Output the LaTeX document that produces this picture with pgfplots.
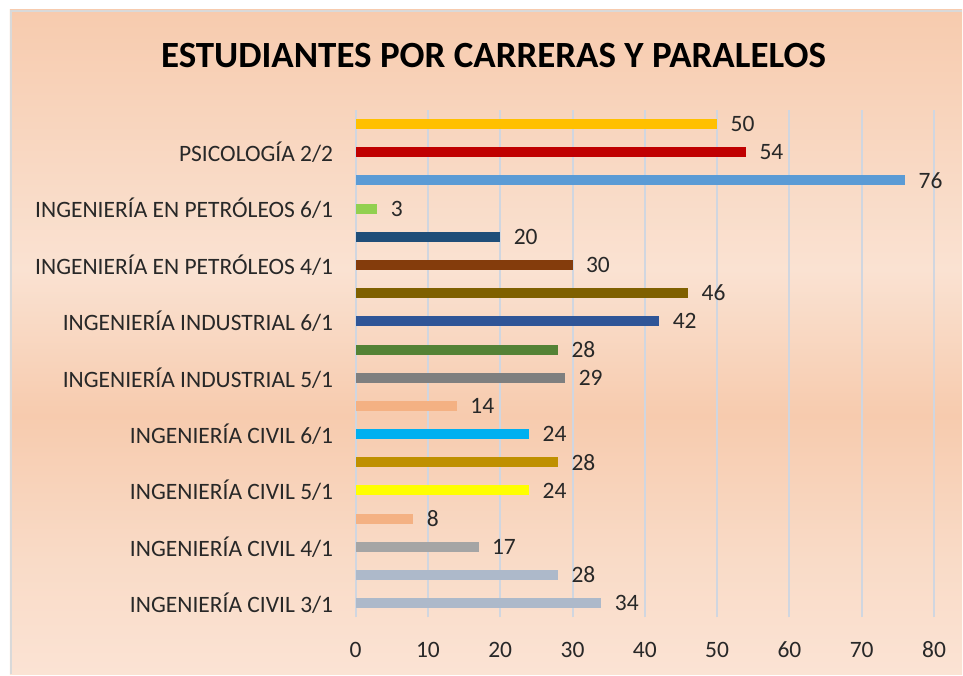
\documentclass[border=0pt]{standalone}
\usepackage{fontspec}
\setmainfont{Carlito}
\usepackage{pgfplots}
\pgfplotsset{compat=1.18}
\definecolor{txt}{RGB}{40,40,40}
\definecolor{gridc}{RGB}{208,214,224}
\definecolor{bgA}{RGB}{251,227,212}
\definecolor{bgB}{RGB}{249,219,199}
\definecolor{bgC}{RGB}{247,203,174}
\definecolor{bgD}{RGB}{250,226,210}
\definecolor{c0}{HTML}{ADB9CA}
\definecolor{c1}{HTML}{ADB9CA}
\definecolor{c2}{HTML}{A5A5A5}
\definecolor{c3}{HTML}{F4B183}
\definecolor{c4}{HTML}{FFFF00}
\definecolor{c5}{HTML}{BF9000}
\definecolor{c6}{HTML}{00B0F0}
\definecolor{c7}{HTML}{F4B183}
\definecolor{c8}{HTML}{7F7F7F}
\definecolor{c9}{HTML}{548235}
\definecolor{c10}{HTML}{2F5597}
\definecolor{c11}{HTML}{7F6000}
\definecolor{c12}{HTML}{843C0C}
\definecolor{c13}{HTML}{1F4E79}
\definecolor{c14}{HTML}{92D050}
\definecolor{c15}{HTML}{5B9BD5}
\definecolor{c16}{HTML}{C00000}
\definecolor{c17}{HTML}{FFC000}
\pgfdeclareverticalshading{bg}{100bp}{%
  color(0bp)=(bgA);
  color(25bp)=(bgA);
  color(33.6bp)=(bgB);
  color(44.5bp)=(bgC);
  color(55.5bp)=(bgD);
  color(75bp)=(bgC);
  color(100bp)=(bgC)}
\begin{document}
\begin{tikzpicture}
\fill[white] (0pt,0pt) rectangle (963pt,675pt);
\shade[shading=bg] (10pt,0pt) rectangle (963pt,665pt);
\draw[color=black!15, line width=2pt] (11pt,0pt) -- (11pt,664pt) -- (963pt,664pt);
\node[font=\fontsize{37}{42}\bfseries\selectfont, text=black] at (494pt,619pt) {ESTUDIANTES POR CARRERAS Y PARALELOS};
\begin{axis}[
  at={(356pt,57pt)}, anchor=south west,
  scale only axis, width=579pt, height=508pt,
  xbar, /pgf/bar shift=0pt, bar width=10pt,
  xmin=0, xmax=80, ymin=-0.5, ymax=17.5,
  xtick={0,10,...,80},
  ytick={0,2,...,16},
  yticklabels={INGENIERÍA CIVIL 3/1, INGENIERÍA CIVIL 4/1, INGENIERÍA CIVIL 5/1, INGENIERÍA CIVIL 6/1, INGENIERÍA INDUSTRIAL 5/1, INGENIERÍA INDUSTRIAL 6/1, INGENIERÍA EN PETRÓLEOS 4/1, INGENIERÍA EN PETRÓLEOS 6/1, PSICOLOGÍA 2/2},
  /pgf/number format/assume math mode=true,
  axis line style={draw=none},
  major tick length=0pt,
  xmajorgrids,
  major grid style={color=gridc, line width=2pt},
  tick label style={font=\fontsize{23.5}{27}\selectfont, text=txt},
  xticklabel style={yshift=-21pt},
  yticklabel style={xshift=-19pt},
  point meta=x,
  nodes near coords,
  nodes near coords style={anchor=west, xshift=10pt, font=\fontsize{23.5}{27}\selectfont, text=txt},
  clip=false,
]
\addplot[fill=c0, draw=none] coordinates {(34,0)};
\addplot[fill=c1, draw=none] coordinates {(28,1)};
\addplot[fill=c2, draw=none] coordinates {(17,2)};
\addplot[fill=c3, draw=none] coordinates {(8,3)};
\addplot[fill=c4, draw=none] coordinates {(24,4)};
\addplot[fill=c5, draw=none] coordinates {(28,5)};
\addplot[fill=c6, draw=none] coordinates {(24,6)};
\addplot[fill=c7, draw=none] coordinates {(14,7)};
\addplot[fill=c8, draw=none] coordinates {(29,8)};
\addplot[fill=c9, draw=none] coordinates {(28,9)};
\addplot[fill=c10, draw=none] coordinates {(42,10)};
\addplot[fill=c11, draw=none] coordinates {(46,11)};
\addplot[fill=c12, draw=none] coordinates {(30,12)};
\addplot[fill=c13, draw=none] coordinates {(20,13)};
\addplot[fill=c14, draw=none] coordinates {(3,14)};
\addplot[fill=c15, draw=none] coordinates {(76,15)};
\addplot[fill=c16, draw=none] coordinates {(54,16)};
\addplot[fill=c17, draw=none] coordinates {(50,17)};
\end{axis}
\end{tikzpicture}
\end{document}
